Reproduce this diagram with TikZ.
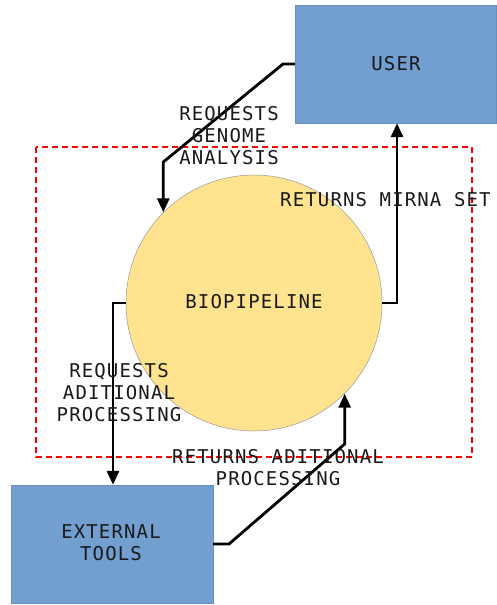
\documentclass[tikz,border=0pt]{standalone}
\usepackage{fontspec}
\newfontfamily\lblfont[LetterSpace=6]{DejaVu Sans Mono}
\usetikzlibrary{arrows.meta}
\definecolor{boxblue}{HTML}{729FCF}
\definecolor{bioyellow}{HTML}{FFE38F}
\tikzset{
  lbl/.style={font=\lblfont\fontsize{19}{22}\selectfont, align=center, inner sep=0pt, text=black!90},
  entity/.style={fill=boxblue, draw=boxblue!90!black, line width=0.4pt, minimum width=201pt, minimum height=118pt, inner sep=0pt},
  conn/.style={line width=2.8pt, -{Triangle[length=14pt,width=12pt]}, line join=miter},
}
\begin{document}
\begin{tikzpicture}[x=1pt,y=-1pt]
\useasboundingbox (0,0) rectangle (496,605);
\draw[red, line width=2pt, dash pattern=on 6pt off 4pt] (36,147) rectangle (472,457);
\node[entity] (user) at (395.5,64) {};
\node[entity, minimum width=202pt] (tools) at (112,544) {};
\node[circle, fill=bioyellow, draw=gray!80, line width=0.5pt, minimum size=256pt, inner sep=0pt] (bio) at (254,303) {};
\node[lbl] (userlbl) at (396,64) {USER};
\node[lbl] (toolslbl) at (111,542.5) {EXTERNAL\\TOOLS};
\node[lbl] (biolbl) at (254,302) {BIOPIPELINE};
\coordinate (c1a) at (283,64);
\coordinate (c1b) at (bio.135 |- 0,162);
\draw[conn] (user.west) -- (c1a) -- (c1b) -- (bio.135);
\coordinate (c2a) at (397,303);
\draw[conn] (bio.east) -- (c2a) -- (c2a |- user.south);
\coordinate (c3a) at (113,303);
\draw[conn] (bio.west) -- (c3a) -- (c3a |- tools.north);
\coordinate (c4a) at (229,544);
\coordinate (c4b) at (bio.-45 |- 0,444);
\draw[conn] (tools.east) -- (c4a) -- (c4b) -- (bio.-45);
\node[lbl] (l1) at (229,136) {REQUESTS\\GENOME\\ANALYSIS};
\node[lbl, anchor=west] (l2) at (280,200) {RETURNS MIRNA SET};
\node[lbl] (l3) at (119,393) {REQUESTS\\ADITIONAL\\PROCESSING};
\node[lbl] (l4) at (278,468) {RETURNS ADITIONAL\\PROCESSING};
\end{tikzpicture}
\end{document}
